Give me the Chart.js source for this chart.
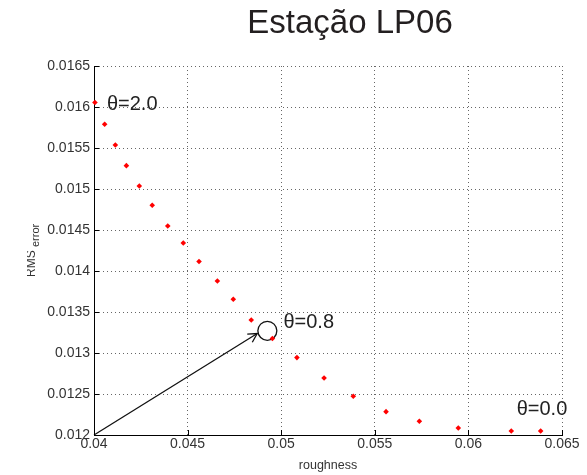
<!DOCTYPE html>
<html>
<head>
<meta charset="utf-8">
<title>Estação LP06</title>
<script src="https://cdn.jsdelivr.net/npm/chart.js@4"></script>
<style>
  html, body { margin: 0; padding: 0; background: #fff; }
  #wrap { width: 587px; height: 475px; position: relative; }
</style>
</head>
<body>
<div id="wrap"><canvas id="chart"></canvas></div>
<script>
// RMS error x roughness, varrendo theta de 2.0 ate 0.0
const theta = [2.0, 1.9, 1.8, 1.7, 1.6, 1.5, 1.4, 1.3, 1.2, 1.1, 1.0, 0.9, 0.8, 0.7, 0.6, 0.5, 0.4, 0.3, 0.2, 0.1, 0.0];
const roughness = [0.04005, 0.04057, 0.04114, 0.04173, 0.04242, 0.04311, 0.04394, 0.04477, 0.04561, 0.04659, 0.04744,
                   0.04840, 0.04953, 0.05084, 0.05229, 0.05385, 0.05560, 0.05738, 0.05946, 0.06229, 0.06386];
const rmsError = [0.016054, 0.015789, 0.015537, 0.015285, 0.015037, 0.014801, 0.014549, 0.014341, 0.014115, 0.013878, 0.013655,
                  0.013402, 0.013176, 0.012944, 0.012695, 0.012472, 0.012285, 0.012167, 0.012085, 0.012049, 0.012049];

// eixos
const xTicks = [0.04, 0.045, 0.05, 0.055, 0.06, 0.065];
const yTicks = [0.012, 0.0125, 0.013, 0.0135, 0.014, 0.0145, 0.015, 0.0155, 0.016, 0.0165];

// theta marcados no grafico
const thetaLabels = ['θ=2.0', 'θ=0.8', 'θ=0.0'];
const thetaMarked = [2.0, 0.8, 0.0];

// seta e circulo do ponto escolhido
const arrowX = [0.04, 0.04872];
const arrowY = [0.012, 0.013237];
const circleX = [0.04926];
const circleY = [0.01327];

const FONT = 'Arial, "Liberation Sans", sans-serif';

const points = roughness.map((x, i) => ({x: x, y: rmsError[i]}));
const arrowPts = arrowX.map((x, i) => ({x: x, y: arrowY[i]}));
const circlePts = circleX.map((x, i) => ({x: x, y: circleY[i]}));

const fmt = v => String(+v.toFixed(5));

// titulo, rotulos dos eixos, ticks para dentro, ponta da seta e textos theta
const extras = {
  id: 'extras',
  afterDraw(chart) {
    const ctx = chart.ctx;
    const xs = chart.scales.x, ys = chart.scales.y;
    const area = chart.chartArea;
    ctx.save();

    // ticks internos (so nos eixos esquerdo e inferior)
    ctx.strokeStyle = '#000';
    ctx.lineWidth = 1;
    ctx.beginPath();
    xTicks.forEach(v => {
      const px = Math.round(xs.getPixelForValue(v)) + 0.5;
      ctx.moveTo(px, area.bottom);
      ctx.lineTo(px, area.bottom - 5);
    });
    yTicks.forEach(v => {
      const py = Math.round(ys.getPixelForValue(v)) + 0.5;
      ctx.moveTo(area.left, py);
      ctx.lineTo(area.left + 5, py);
    });
    ctx.stroke();

    // ponta da seta
    const x0 = xs.getPixelForValue(arrowX[0]), y0 = ys.getPixelForValue(arrowY[0]);
    const x1 = xs.getPixelForValue(arrowX[1]), y1 = ys.getPixelForValue(arrowY[1]);
    const ang = Math.atan2(y1 - y0, x1 - x0);
    const len = 10, spread = 0.5;
    ctx.lineWidth = 1.3;
    ctx.strokeStyle = '#111';
    ctx.beginPath();
    ctx.moveTo(x1 - len * Math.cos(ang - spread), y1 - len * Math.sin(ang - spread));
    ctx.lineTo(x1, y1);
    ctx.lineTo(x1 - len * Math.cos(ang + spread), y1 - len * Math.sin(ang + spread));
    ctx.stroke();

    // textos theta
    const offsets = [[12, 2], [11, -16], [-24, -21]];
    ctx.fillStyle = '#222';
    ctx.font = '20px ' + FONT;
    ctx.textAlign = 'left';
    ctx.textBaseline = 'middle';
    thetaLabels.forEach((t, k) => {
      const i = theta.indexOf(thetaMarked[k]);
      const px = xs.getPixelForValue(roughness[i]);
      const py = ys.getPixelForValue(rmsError[i]);
      ctx.fillText(t, px + offsets[k][0], py + offsets[k][1]);
    });

    // titulo
    ctx.fillStyle = '#231f20';
    ctx.font = '33px ' + FONT;
    ctx.textAlign = 'center';
    ctx.fillText('Estação LP06', 350, 24);

    // rotulo x
    ctx.fillStyle = '#333';
    ctx.font = '12.5px ' + FONT;
    ctx.fillText('roughness', (area.left + area.right) / 2, 466);

    // rotulo y (cortado na borda)
    ctx.save();
    ctx.beginPath();
    ctx.rect(27, 0, 100, chart.height);
    ctx.clip();
    ctx.translate(35, 277);
    ctx.rotate(-Math.PI / 2);
    ctx.textAlign = 'left';
    ctx.textBaseline = 'alphabetic';
    ctx.font = '12px ' + FONT;
    ctx.fillText('RMS', 0, 0);
    ctx.font = '11px ' + FONT;
    ctx.fillText('error', 30, 4);
    ctx.restore();

    ctx.restore();
  }
};

const gridOpts = {
  color: '#666',
  lineWidth: 1,
  drawTicks: false
};

new Chart(document.getElementById('chart').getContext('2d'), {
  type: 'scatter',
  data: {
    datasets: [
      {
        label: 'RMS error',
        data: points,
        pointStyle: 'rectRot',
        pointRadius: 2.8,
        backgroundColor: '#ff0000',
        borderColor: '#ff0000',
        borderWidth: 0,
        clip: false
      },
      {
        label: 'seta',
        data: arrowPts,
        showLine: true,
        pointRadius: 0,
        borderColor: '#111',
        borderWidth: 1.3,
        clip: false
      },
      {
        label: 'escolhido',
        data: circlePts,
        pointStyle: 'circle',
        pointRadius: 9.5,
        borderColor: '#111',
        borderWidth: 1.3,
        backgroundColor: 'rgba(0,0,0,0)'
      }
    ]
  },
  options: {
    responsive: true,
    maintainAspectRatio: false,
    animation: false,
    events: [],
    layout: { padding: { top: 66, left: 0, right: 25, bottom: 0 } },
    plugins: {
      legend: { display: false },
      title: { display: false },
      tooltip: { enabled: false }
    },
    scales: {
      x: {
        type: 'linear',
        min: 0.04,
        max: 0.065,
        afterBuildTicks: s => { s.ticks = xTicks.map(v => ({value: v})); },
        afterFit: s => { s.height = 40; },
        ticks: {
          callback: v => fmt(v),
          color: '#333',
          font: { family: FONT, size: 14 },
          padding: 1,
          maxRotation: 0,
          autoSkip: false
        },
        grid: gridOpts,
        border: { display: true, color: '#000', width: 1, dash: [1, 3] }
      },
      y: {
        type: 'linear',
        min: 0.012,
        max: 0.0165,
        afterBuildTicks: s => { s.ticks = yTicks.map(v => ({value: v})); },
        afterFit: s => { s.width = 94; },
        ticks: {
          callback: v => fmt(v),
          color: '#333',
          font: { family: FONT, size: 14 },
          padding: 4,
          autoSkip: false
        },
        grid: gridOpts,
        border: { display: true, color: '#000', width: 1, dash: [1, 3] }
      }
    }
  },
  plugins: [extras]
});
</script>
</body>
</html>
